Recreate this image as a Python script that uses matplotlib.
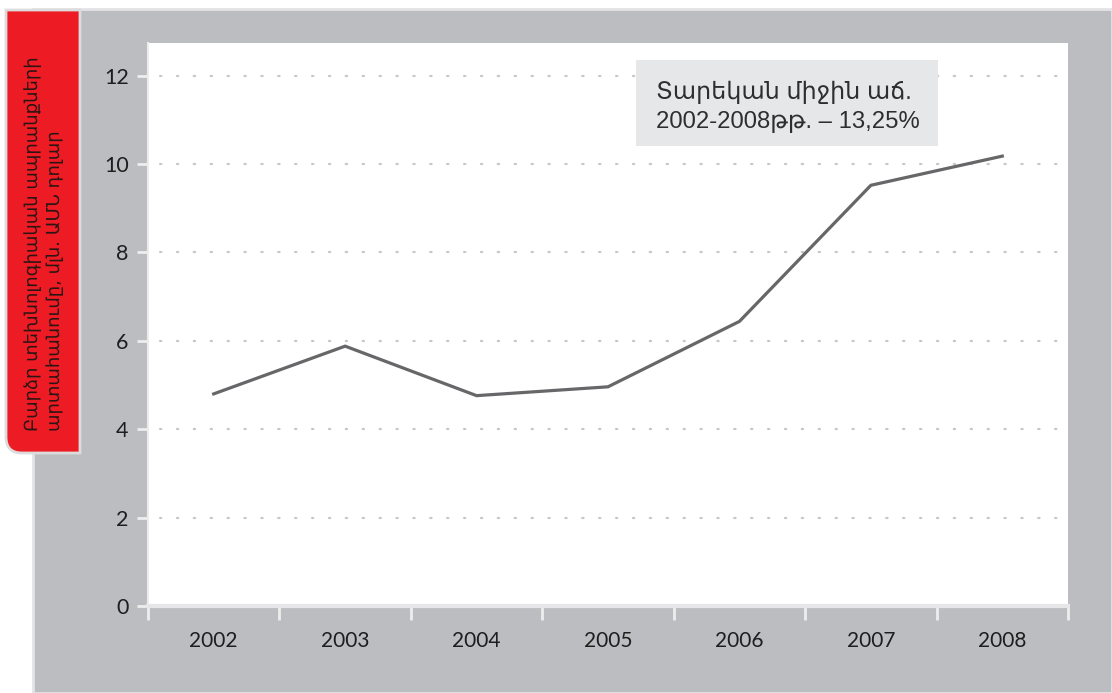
import matplotlib.pyplot as plt
import matplotlib.transforms as mtransforms
from matplotlib.patches import Rectangle, PathPatch
from matplotlib.path import Path

# datos del grafico
years = ['2002', '2003', '2004', '2005', '2006', '2007', '2008']
exports = [4.80, 5.88, 4.76, 4.96, 6.44, 9.52, 10.18]
y_ticks = [0, 2, 4, 6, 8, 10, 12]

ylabel_text = 'Բարձր տեխնոլոգիական ապրանքների\nարտահանումը, մլն. ԱՄՆ դոլար'
box_text = 'Տարեկան միջին աճ.\n2002-2008թթ. – 13,25%'

W, H = 1112, 693
fig = plt.figure(figsize=(W / 100, H / 100), dpi=100)
fig.patch.set_facecolor('white')

# coordenadas en pixeles desde la esquina superior izquierda
px = mtransforms.Affine2D().scale(1 / W, -1 / H).translate(0, 1) + fig.transFigure

# panel gris de fondo
fig.patches.append(Rectangle((33, 9), W - 33, H - 9, transform=px,
                             facecolor='#bcbdc0', edgecolor='#e4e4e6', lw=2, zorder=0))

# etiqueta roja con esquina redondeada abajo a la izquierda
x0, x1, y0, y1, r = 6, 80, 10, 453, 16
verts = [(x0, y0), (x1, y0), (x1, y1), (x0 + r, y1), (x0, y1), (x0, y1 - r), (x0, y0)]
codes = [Path.MOVETO, Path.LINETO, Path.LINETO, Path.LINETO, Path.CURVE3, Path.CURVE3, Path.CLOSEPOLY]
fig.patches.append(PathPatch(Path(verts, codes), transform=px, facecolor='#ed1c24',
                             edgecolor='#dcdcdc', lw=2, zorder=1))
fig.text(44, 431, ylabel_text, transform=px, rotation=90, ha='center', va='bottom',
         multialignment='left', fontsize=13, color='#2a1515', linespacing=1.3,
         family=['DejaVu Sans'], zorder=4)

# area del grafico
ax = fig.add_axes([148 / W, 1 - 606 / H, 920 / W, 563 / H])
ax.set_zorder(2)
ax.set_facecolor('white')
x = list(range(len(years)))
ax.plot(x, exports, color='#67676a', lw=2.3, solid_joinstyle='miter', zorder=3)

ax.set_xlim(-0.5, len(years) - 0.5)
ax.set_ylim(0, 12.74)
ax.set_yticks(y_ticks)
ax.set_xticks(x)
ax.set_xticklabels(years)
ax.set_xticks([i - 0.5 for i in range(len(years) + 1)], minor=True)

for yv in y_ticks[1:]:
    ax.axhline(yv, xmin=0.013, xmax=0.993, color='#c8c8c8', lw=1.6, ls=(0, (0.6, 7)),
               dash_capstyle='round', zorder=1)

for s in ['top', 'right']:
    ax.spines[s].set_visible(False)
ax.spines['left'].set_color('#ececec')
ax.spines['left'].set_linewidth(1.5)
ax.spines['bottom'].set_color('#e6e6e8')
ax.spines['bottom'].set_linewidth(3)

ax.tick_params(axis='x', which='major', length=0, pad=18, labelsize=15, labelcolor='#1e1e1e')
ax.tick_params(axis='x', which='minor', length=10, width=2, color='#eeeeee')
ax.tick_params(axis='y', length=8, width=2, color='#eeeeee', pad=6, labelsize=15.5,
               labelcolor='#1e1e1e')
for lab in ax.get_xticklabels() + ax.get_yticklabels():
    lab.set_family(['Lato', 'DejaVu Sans'])

# recuadro con la tasa media anual
fig.patches.append(Rectangle((636, 60), 302, 86, transform=px,
                             facecolor='#e6e7e9', edgecolor='none', zorder=5))
fig.text(656, 107, box_text, transform=px, ha='left', va='center', fontsize=17.2,
         color='#2e2e2e', linespacing=1.4, family=['Liberation Sans', 'DejaVu Sans'],
         zorder=6)

fig.savefig('out.png', dpi=100)
